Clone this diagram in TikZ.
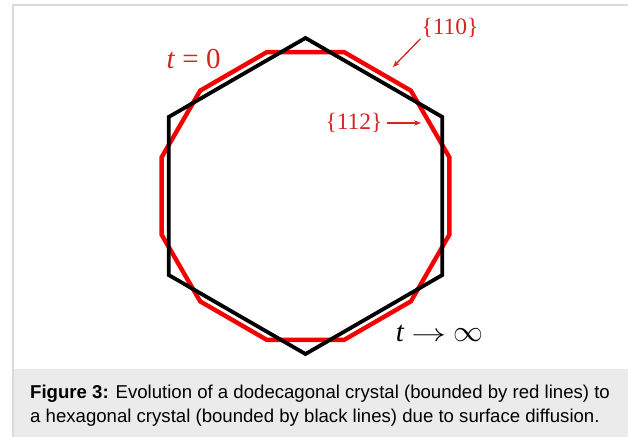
\documentclass[tikz,border=0pt]{standalone}
\usepackage{fontspec}
\setmainfont{Liberation Serif}
\newfontfamily\capfont{Liberation Sans}
\usepackage{tikz}
\usetikzlibrary{arrows.meta, positioning}

\definecolor{crystalred}{RGB}{245,0,0}
\definecolor{labelred}{RGB}{215,35,35}
\definecolor{capgray}{RGB}{235,235,235}
\definecolor{framegray}{RGB}{218,218,218}

\begin{document}
\begin{tikzpicture}[x=1pt, y=1pt, >={Stealth[length=7pt, width=5.5pt]},
  hexline/.style={line width=3.8pt, black},
  dodline/.style={line width=4.4pt, crystalred},
  redlabel/.style={text=labelred, inner sep=1pt, font=\fontsize{23.5}{26}\selectfont},
  biglabel/.style={inner sep=1pt, font=\fontsize{29}{32}\selectfont},
  labarrow/.style={->, line width=1.3pt, labelred},
  caption/.style={anchor=base west, inner sep=0pt, font=\capfont\fontsize{18.6}{22}\selectfont}]

  % frame and caption strip
  \useasboundingbox (0,0) rectangle (628,-436);
  \draw[framegray, line width=1.2pt, fill=white] (13,-445) rectangle (640,-5);
  \fill[capgray] (13.6,-369) rectangle (640,-445);

  % crystals: dodecagon (t=0) under hexagon (t -> infinity)
  \coordinate (c) at (305.5,-196);
  \foreach \i in {0,...,11}
    \path (c) ++(15+30*\i:149) coordinate (d\i);
  \foreach \i in {0,...,5}
    \path (c) ++(90+60*\i:158) coordinate (h\i);
  \draw[dodline] (d0) \foreach \i in {1,...,11} {-- (d\i)} -- cycle;
  \draw[hexline] (h0) \foreach \i in {1,...,5} {-- (h\i)} -- cycle;

  % labels
  \node[biglabel, text=labelred] (t0) at (193.5,-59) {\textit{t} = 0};
  \node[biglabel] (tinf) at (439.5,-333)
    {\textit{t}\hspace{7pt}\scalebox{1.4}[1]{$\to$}\hspace{7pt}\scalebox{1.2}{$\infty$}};
  \node[redlabel] (l110) at (450,-28) {\{110\}};
  \node[redlabel] (l112) at (354,-123) {\{112\}};
  \coordinate (f110) at (393,-67);
  \coordinate (f112) at (421,-123);
  \draw[labarrow] (l110.south west) -- (f110);
  \draw[labarrow, shorten <=3pt] (l112.east) -- (f112);

  % caption
  \node[caption] (cap1) at (30,-398) {\textbf{Figure 3:} Evolution of a dodecagonal crystal (bounded by red lines) to};
  \node[caption] (cap2) at (30,-422) {a hexagonal crystal (bounded by black lines) due to surface diffusion.};
\end{tikzpicture}
\end{document}
